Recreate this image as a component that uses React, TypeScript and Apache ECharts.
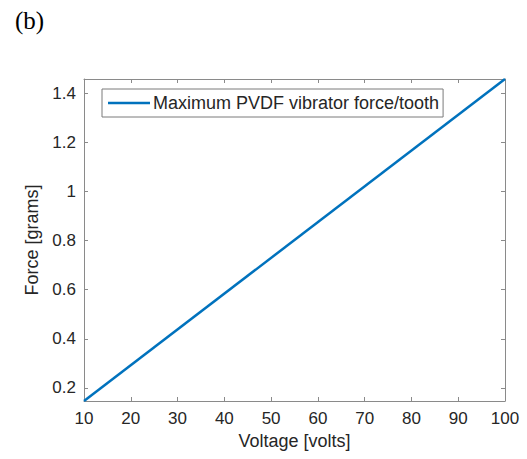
import React, { useEffect, useRef } from "react";
import * as echarts from "echarts";

// Applied voltage and resulting maximum force per tooth
const voltage: number[] = [10, 100];
const force: number[] = [0.146, 1.46];

const xTicks: number[] = [10, 20, 30, 40, 50, 60, 70, 80, 90, 100];
const yTicks: number[] = [0.2, 0.4, 0.6, 0.8, 1, 1.2, 1.4];

const seriesName = "Maximum PVDF vibrator force/tooth";

const FONT = "'Liberation Sans', Arial, Helvetica, sans-serif";
const TEXT = "#262626";
const AXIS = "#8a8a8a";
const BLUE = "#0072BD";

export default function App() {
  const ref = useRef<HTMLDivElement>(null);

  useEffect(() => {
    if (!ref.current) return;
    const chart = echarts.init(ref.current, null, { renderer: "svg" });

    const xMin = voltage[0];
    const xMax = voltage[voltage.length - 1];
    const yMin = force[0];
    const yMax = force[force.length - 1];

    const tickStyle = { show: true, inside: true, length: 4, lineStyle: { color: AXIS, width: 1 } };
    const lineStyle = { show: true, onZero: false, lineStyle: { color: AXIS, width: 1 } };

    chart.setOption({
      animation: false,
      backgroundColor: "#ffffff",
      textStyle: { fontFamily: FONT },
      grid: { left: 84, right: 22, top: 79, bottom: 58, containLabel: false },
      legend: {
        show: true,
        left: 102,
        top: 89,
        orient: "horizontal",
        data: [{ name: seriesName, icon: "rect" }],
        itemWidth: 42,
        itemHeight: 2.5,
        padding: [5, 4, 5, 6],
        borderColor: "#7a7a7a",
        borderWidth: 1,
        backgroundColor: "#ffffff",
        itemStyle: { color: BLUE },
        textStyle: { color: TEXT, fontSize: 18, fontFamily: FONT, padding: [0, 0, 0, -2] },
      },
      xAxis: [
        {
          type: "value",
          position: "bottom",
          min: xMin,
          max: xMax,
          interval: 10,
          name: "Voltage [volts]",
          nameLocation: "middle",
          nameGap: 29,
          nameTextStyle: { color: TEXT, fontSize: 18, fontFamily: FONT },
          axisLine: lineStyle,
          axisTick: { ...tickStyle, customValues: xTicks },
          axisLabel: { color: TEXT, fontSize: 17, margin: 9, fontFamily: FONT, customValues: xTicks },
          splitLine: { show: false },
        },
        {
          type: "value",
          position: "top",
          min: xMin,
          max: xMax,
          interval: 10,
          axisLine: lineStyle,
          axisTick: { ...tickStyle, customValues: xTicks },
          axisLabel: { show: false },
          splitLine: { show: false },
        },
      ],
      yAxis: [
        {
          type: "value",
          position: "left",
          min: yMin,
          max: yMax,
          name: "Force [grams]",
          nameLocation: "middle",
          nameGap: 32,
          nameTextStyle: { color: TEXT, fontSize: 18, fontFamily: FONT },
          axisLine: lineStyle,
          axisTick: { ...tickStyle, customValues: yTicks },
          axisLabel: {
            color: TEXT,
            fontSize: 17,
            margin: 8,
            fontFamily: FONT,
            customValues: yTicks,
            formatter: (v: number) => String(Math.round(v * 10) / 10),
          },
          splitLine: { show: false },
        },
        {
          type: "value",
          position: "right",
          min: yMin,
          max: yMax,
          axisLine: lineStyle,
          axisTick: { ...tickStyle, customValues: yTicks },
          axisLabel: { show: false },
          splitLine: { show: false },
        },
      ],
      series: [
        {
          name: seriesName,
          type: "line",
          xAxisIndex: 0,
          yAxisIndex: 0,
          data: voltage.map((v, i) => [v, force[i]]),
          symbol: "none",
          showSymbol: false,
          lineStyle: { color: BLUE, width: 2.5 },
          itemStyle: { color: BLUE },
        },
      ],
      graphic: [
        {
          type: "text",
          left: 15,
          top: 8,
          style: {
            text: "(b)",
            font: "25px 'Liberation Serif', 'Times New Roman', serif",
            fill: "#000000",
          },
        },
      ],
    });

    return () => chart.dispose();
  }, []);

  return <div ref={ref} style={{ width: 527, height: 459, position: "absolute", left: 0, top: 0 }} />;
}
